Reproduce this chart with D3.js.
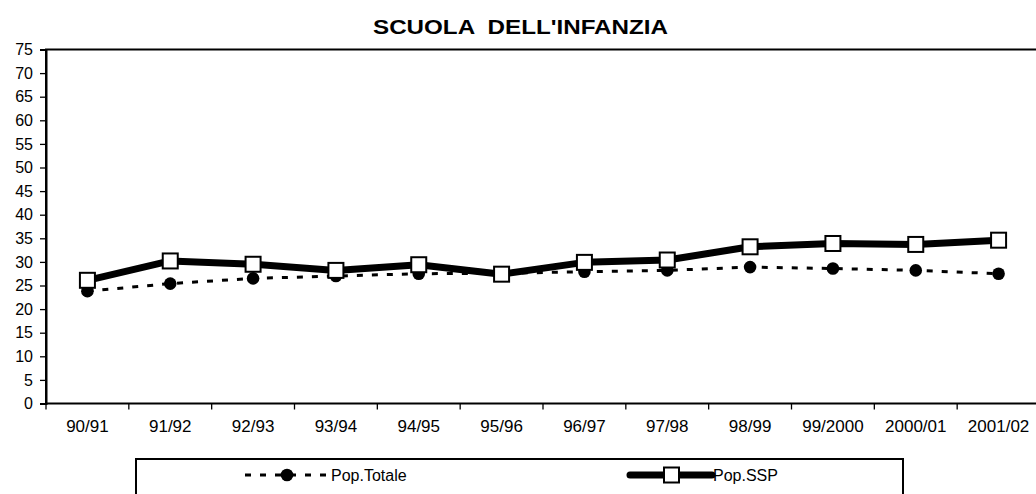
<!DOCTYPE html>
<html>
<head>
<meta charset="utf-8">
<script src="https://cdn.jsdelivr.net/npm/d3@7"></script>
<style>
  html, body { margin: 0; padding: 0; background: #fff; }
  svg { display: block; font-family: "Liberation Sans", Arial, sans-serif; }
</style>
</head>
<body>
<svg id="chart" width="1036" height="494"></svg>
<script>
const title = "SCUOLA  DELL'INFANZIA";
const categories = ["90/91", "91/92", "92/93", "93/94", "94/95", "95/96", "96/97", "97/98", "98/99", "99/2000", "2000/01", "2001/02"];
const popTotale = [23.8, 25.4, 26.5, 27.0, 27.5, 27.6, 27.9, 28.2, 28.9, 28.6, 28.2, 27.5];
const popSSP = [26.1, 30.2, 29.5, 28.2, 29.4, 27.4, 29.9, 30.4, 33.2, 33.9, 33.7, 34.6];
const yTicks = d3.range(0, 80, 5);
const seriesNames = ["Pop.Totale", "Pop.SSP"];

(function () {
const svg = d3.select("#chart");
const mL = 46, mR = 1040, mT = 49.5, mB = 403.5;

const x = d3.scaleBand().domain(categories).range([mL, mR]).padding(0);
const y = d3.scaleLinear().domain([0, 75]).range([mB, mT]);
const cx = d => x(d) + x.bandwidth() / 2;

// Title
svg.append("text")
  .attr("x", 373).attr("y", 34)
  .attr("font-weight", "bold")
  .attr("font-size", 20)
  .attr("textLength", 295)
  .attr("lengthAdjust", "spacingAndGlyphs")
  .style("white-space", "pre")
  .text(title);

// Plot frame
svg.append("rect")
  .attr("x", mL).attr("y", mT)
  .attr("width", mR - mL).attr("height", mB - mT)
  .attr("fill", "none").attr("stroke", "#000").attr("stroke-width", 2);

// Y axis
const yAxis = svg.append("g")
  .attr("transform", `translate(${mL},0)`)
  .call(d3.axisLeft(y).tickValues(yTicks).tickSize(6).tickPadding(7).tickFormat(d3.format("d")));
yAxis.select(".domain").attr("stroke-width", 2);
yAxis.selectAll(".tick line").attr("stroke-width", 1.3);
yAxis.selectAll("text").attr("font-size", 16).attr("font-family", "Liberation Sans, Arial, sans-serif").attr("fill", "#000");

// X axis
const xAxis = svg.append("g")
  .attr("transform", `translate(0,${mB})`)
  .call(d3.axisBottom(x).tickSize(0).tickPadding(16));
xAxis.select(".domain").remove();
xAxis.selectAll("text").attr("font-size", 17).attr("font-family", "Liberation Sans, Arial, sans-serif").attr("fill", "#000");
svg.append("g").selectAll("line")
  .data(categories)
  .join("line")
  .attr("x1", d => x(d)).attr("x2", d => x(d))
  .attr("y1", mB).attr("y2", mB + 6)
  .attr("stroke", "#000").attr("stroke-width", 1.3);

const lineGen = d3.line().x((d, i) => cx(categories[i])).y(d => y(d));

// Pop.Totale dashed line
svg.append("path")
  .datum(popTotale)
  .attr("d", lineGen)
  .attr("fill", "none").attr("stroke", "#000")
  .attr("stroke-width", 3).attr("stroke-dasharray", "6,9");
svg.append("g").selectAll("circle")
  .data(popTotale)
  .join("circle")
  .attr("cx", (d, i) => cx(categories[i])).attr("cy", d => y(d))
  .attr("r", 6.3).attr("fill", "#000");

// Pop.SSP thick line
svg.append("path")
  .datum(popSSP)
  .attr("d", lineGen)
  .attr("fill", "none").attr("stroke", "#000")
  .attr("stroke-width", 7).attr("stroke-linejoin", "round");
svg.append("g").selectAll("rect")
  .data(popSSP)
  .join("rect")
  .attr("x", (d, i) => cx(categories[i]) - 7.5).attr("y", d => y(d) - 7.5)
  .attr("width", 15).attr("height", 15)
  .attr("fill", "#fff").attr("stroke", "#000").attr("stroke-width", 2);

// Legend
const lg = svg.append("g");
lg.append("rect")
  .attr("x", 136).attr("y", 459)
  .attr("width", 767).attr("height", 60)
  .attr("fill", "#fff").attr("stroke", "#000").attr("stroke-width", 2);
const ly = 475;
lg.append("line")
  .attr("x1", 245).attr("x2", 330).attr("y1", ly).attr("y2", ly)
  .attr("stroke", "#000").attr("stroke-width", 3).attr("stroke-dasharray", "6,9");
lg.append("circle").attr("cx", 287).attr("cy", ly).attr("r", 6.3).attr("fill", "#000");
lg.append("text").attr("x", 331).attr("y", ly + 5.5).attr("font-size", 16).text(seriesNames[0]);

lg.append("line")
  .attr("x1", 630).attr("x2", 712).attr("y1", ly).attr("y2", ly)
  .attr("stroke", "#000").attr("stroke-width", 7).attr("stroke-linecap", "round");
lg.append("rect").attr("x", 664).attr("y", ly - 7.5).attr("width", 15).attr("height", 15)
  .attr("fill", "#fff").attr("stroke", "#000").attr("stroke-width", 2);
lg.append("text").attr("x", 713).attr("y", ly + 5.5).attr("font-size", 16).text(seriesNames[1]);
})();
</script>
</body>
</html>
